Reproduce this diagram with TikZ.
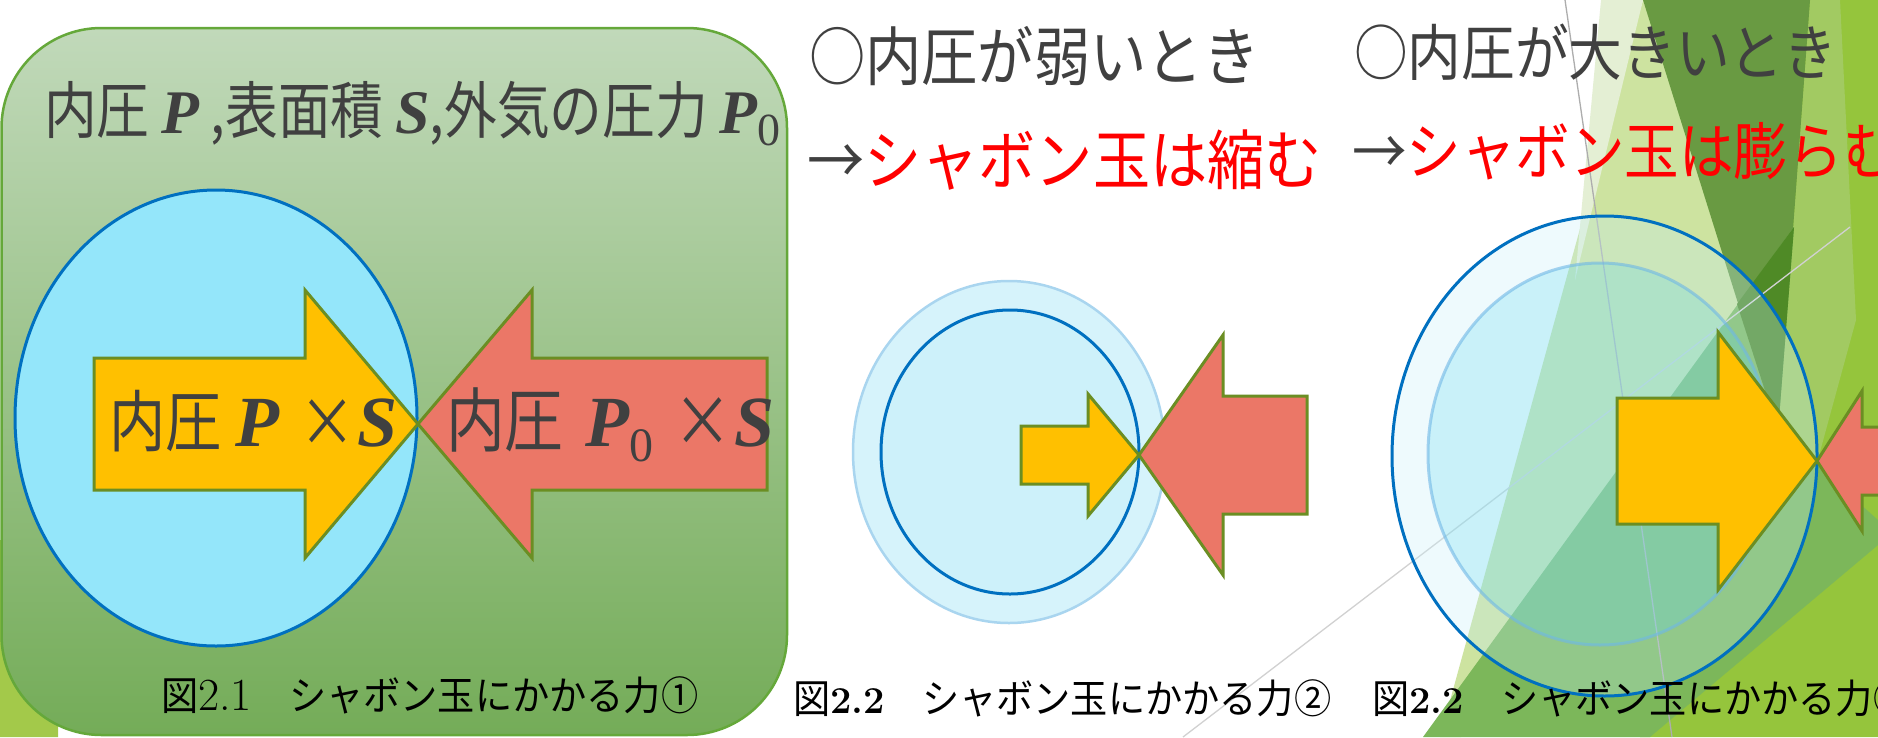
\documentclass[tikz,border=0pt]{standalone}
\usepackage{fontspec}
\newfontfamily\jpT[FakeStretch=0.85]{Noto Sans CJK JP}
\newfontfamily\jpA[FakeStretch=0.84]{Noto Sans CJK JP}
\newfontfamily\jpH[FakeStretch=0.88]{Noto Sans CJK JP}
\newfontfamily\jpC[FakeStretch=0.93]{Noto Sans CJK JP}
\newfontfamily\mathser{Liberation Serif}
\newcommand{\bitx}[2]{{\mathser\fontsize{#1}{#1}\selectfont\bfseries\itshape #2}}
\newcommand{\subz}[3]{\raisebox{-#2pt}{\mathser\fontsize{#1}{#1}\selectfont #3}}
\definecolor{txtgray}{HTML}{404040}
\definecolor{arrline}{HTML}{6B8E23}
\definecolor{yfill}{HTML}{FFC000}
\definecolor{rfill}{HTML}{EB7767}
\definecolor{bblue}{HTML}{0070C0}
\definecolor{lblue}{HTML}{A9D5EF}
\definecolor{cyanA}{HTML}{94E6FA}
\definecolor{panelTop}{HTML}{C1D9BA}
\definecolor{panelBot}{HTML}{74AC58}
\definecolor{panelLine}{HTML}{65A83A}
\definecolor{fPale}{HTML}{E4EFD4}
\definecolor{fLight}{HTML}{CDE3A0}
\definecolor{fBright}{HTML}{95C53C}
\definecolor{fLighter}{HTML}{A2CA62}
\definecolor{fDark}{HTML}{699A42}
\definecolor{fMid}{HTML}{7CB75A}
\definecolor{fDeep}{HTML}{4F8A26}
\definecolor{fWedge}{HTML}{A3C94A}
\tikzset{
  yarr/.style={fill=yfill, draw=arrline, line width=3pt, line join=miter},
  rarr/.style={fill=rfill, draw=arrline, line width=3pt, line join=miter},
  thinline/.style={line width=1.3pt},
  txt/.style={inner sep=0pt, outer sep=0pt, anchor=base west},
}
\begin{document}
\begin{tikzpicture}[x=1pt,y=-1pt]
\useasboundingbox (0,0) rectangle (1878,737);
\clip (0,0) rectangle (1878,737);
\fill[white] (0,0) rectangle (1878,737);
% ---- background facets
\fill[fWedge] (0,540) -- (60,540) -- (58,737) -- (0,737) -- cycle;
\fill[fLight] (1643,0) -- (1810,0) -- (1778,431) -- (1461,737) -- (1440,737) -- cycle;
\fill[fPale] (1601,0) -- (1643,0) -- (1575,280) -- cycle;
\fill[fBright] (1808,0) -- (1878,0) -- (1878,737) -- (1640,737) -- cycle;
\fill[fLighter] (1810,0) -- (1840,0) -- (1856,320) -- (1815,470) -- (1778,431) -- cycle;
\fill[fDark] (1643,0) -- (1810,0) -- (1778,431) -- cycle;
\fill[fMid] (1423,737) -- (1794,227) -- (1778,431) -- (1878,520) -- (1878,545) -- (1650,737) -- cycle;
\fill[fDeep] (1737,304) -- (1794,227) -- (1778,431) -- cycle;
\coordinate (l1a) at (1183,737);
\coordinate (l1b) at (1850,227);
\coordinate (l2a) at (1565,0);
\coordinate (l2b) at (1672,737);
\draw[thinline, draw=black!18] (l1a) -- (l1b);
\draw[thinline, draw=black!32] (l2a) -- (l2b);
% ---- left panel
\draw[draw=panelLine, line width=2.5pt, top color=panelTop, bottom color=panelBot, rounded corners=100pt] (1.5,28) rectangle (787,735);
\node[txt, text=txtgray] (title) at (44,133) {\jpT\fontsize{62}{64}\selectfont 内圧 \bitx{62}{P} ,表面積 \bitx{62}{S},外気の圧力 \bitx{62}{P}\subz{46}{12}{0}};
\draw[draw=bblue, fill=cyanA, line width=3pt] (216,418) ellipse [x radius=201, y radius=228];
\draw[yarr] (94,358) -- (305,358) -- (305,290) -- (418,424) -- (305,558) -- (305,490) -- (94,490) -- cycle;
\draw[rarr] (418,424) -- (532,290) -- (532,358) -- (767,358) -- (767,490) -- (532,490) -- (532,558) -- cycle;
\node[txt, text=txtgray] (ytext) at (109,446) {\jpA\fontsize{67}{70}\selectfont 内圧\hspace{14pt}\bitx{72}{P}\hspace{20pt}×\hspace{2pt}\bitx{72}{S}};
\node[txt, text=txtgray] (rtext) at (446,446) {\jpA\fontsize{70}{72}\selectfont 内圧\hspace{22pt}\bitx{72}{P}\subz{48}{15}{0}\hspace{20pt}×\hspace{2pt}\bitx{72}{S}};
\node[txt, text=black] (cap1) at (161,710) {\jpC\fontsize{40}{44}\selectfont 図{\rmfamily\fontsize{46}{46}\selectfont 2.1}　シャボン玉にかかる力①};
% ---- middle panel
\node[txt, text=txtgray] (h1) at (809,80) {\jpH\fontsize{64}{68}\selectfont ○内圧が弱いとき};
\node[txt] (h2) at (807,184) {\jpH\fontsize{65}{68}\selectfont\textcolor{txtgray}{→}\textcolor{red}{シャボン玉は縮む}};
\draw[draw=lblue, fill={rgb,255:red,214;green,243;blue,251}, line width=2.5pt] (1009,452) ellipse [x radius=156, y radius=171];
\draw[draw=bblue, fill={rgb,255:red,205;green,241;blue,250}, line width=3pt] (1010,452) ellipse [x radius=129, y radius=142];
\draw[yarr] (1021,426) -- (1088,426) -- (1088,394) -- (1139,455) -- (1088,516) -- (1088,484) -- (1021,484) -- cycle;
\draw[rarr] (1139,455) -- (1223,335) -- (1223,396) -- (1307,396) -- (1307,514) -- (1223,514) -- (1223,575) -- cycle;
\node[txt, text=black] (cap2) at (793,713) {\jpC\fontsize{40}{44}\selectfont 図{\rmfamily\bfseries\fontsize{38}{38}\selectfont 2.2}　シャボン玉にかかる力②};
% ---- right panel
\node[txt, text=txtgray] (h3) at (1354,75) {\jpH\fontsize{61}{64}\selectfont ○内圧が大きいとき};
\node[txt] (h4) at (1352,174) {\jpH\fontsize{62}{66}\selectfont\textcolor{txtgray}{→}\textcolor{red}{シャボン玉は膨らむ}};
\draw[draw=bblue, fill={rgb,255:red,200;green,240;blue,250}, fill opacity=0.3, line width=3pt] (1604.5,456) ellipse [x radius=212.5, y radius=240];
\draw[draw={rgb,255:red,111;green,183;blue,230}, draw opacity=0.6, fill={rgb,255:red,93;green,215;blue,238}, fill opacity=0.25, line width=3pt] (1600,454) ellipse [x radius=172, y radius=191];
\draw[yarr] (1617,398) -- (1718,398) -- (1718,332) -- (1817,461) -- (1718,590) -- (1718,524) -- (1617,524) -- cycle;
\draw[rarr] (1817,461) -- (1862,391) -- (1862,427) -- (1890,427) -- (1890,495) -- (1862,495) -- (1862,531) -- cycle;
\node[txt, text=black] (cap3) at (1372,713) {\jpC\fontsize{40}{44}\selectfont 図{\rmfamily\bfseries\fontsize{38}{38}\selectfont 2.2}　シャボン玉にかかる力③};
\end{tikzpicture}
\end{document}
